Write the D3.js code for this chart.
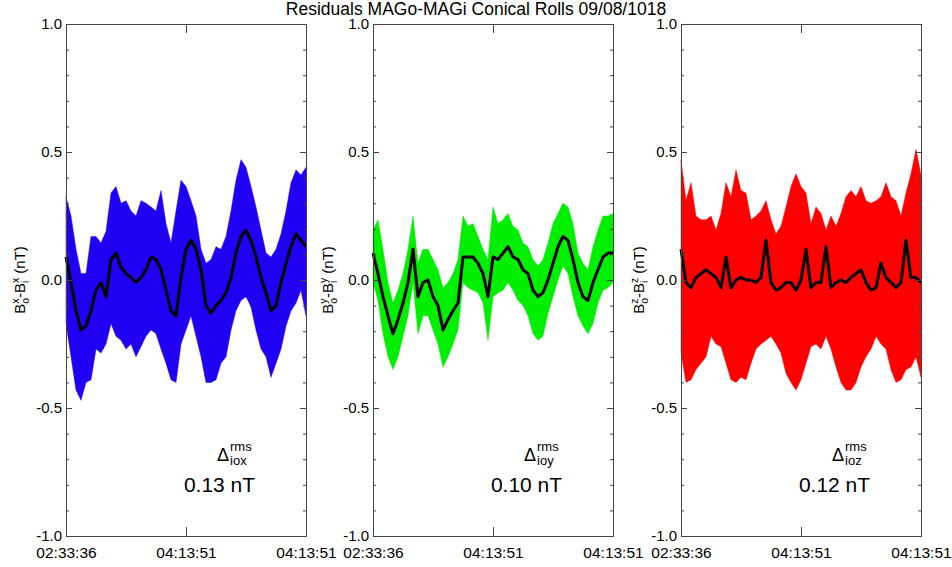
<!DOCTYPE html>
<html><head><meta charset="utf-8">
<script src="https://cdn.jsdelivr.net/npm/d3@7"></script>
<style>
body{margin:0;background:#fff}
svg{display:block;font-family:"Liberation Sans",Arial,Helvetica,sans-serif}
</style>
</head><body><div id="chart"></div>
<script>
// ---------------- data ----------------
const title = "Residuals MAGo-MAGi Conical Rolls 09/08/1018";
const timeTicks = [0, 0.5, 1];
const timeTickLabels = ["02:33:36", "04:13:51", "04:13:51"];
const yMajorTicks = [-1.0, -0.5, 0.0, 0.5, 1.0];
const yMinorTicks = [-0.9,-0.8,-0.7,-0.6,-0.4,-0.3,-0.2,-0.1,0.1,0.2,0.3,0.4,0.6,0.7,0.8,0.9];
const components = ["x", "y", "z"];
const rmsSubs = ["iox", "ioy", "ioz"];
const rmsLabels = ["0.13 nT", "0.10 nT", "0.12 nT"];
const colors = ["#1f00f2", "#00ee00", "#ff0000"];

// upper / lower envelope of the residual and its running mean, 49 samples across the interval
const upperX = [0.325,0.25,0.12,0.025,0.025,0.17,0.17,0.145,0.19,0.34,0.365,0.30,0.31,0.27,0.25,0.31,0.30,0.285,0.27,0.35,0.22,0.145,0.27,0.39,0.365,0.31,0.25,0.12,0.065,0.08,0.13,0.12,0.17,0.27,0.39,0.47,0.44,0.365,0.285,0.195,0.105,0.09,0.12,0.18,0.27,0.38,0.43,0.41,0.44];
const lowerX = [-0.17,-0.30,-0.43,-0.47,-0.40,-0.39,-0.27,-0.285,-0.25,-0.17,-0.22,-0.235,-0.27,-0.25,-0.30,-0.26,-0.22,-0.195,-0.21,-0.27,-0.325,-0.39,-0.40,-0.25,-0.195,-0.14,-0.22,-0.30,-0.40,-0.40,-0.39,-0.325,-0.30,-0.195,-0.12,-0.08,-0.065,-0.105,-0.195,-0.27,-0.30,-0.38,-0.325,-0.27,-0.18,-0.12,-0.09,-0.04,-0.14];
const meanX  = [0.09,-0.01,-0.12,-0.195,-0.18,-0.12,-0.04,-0.01,-0.065,0.08,0.105,0.05,0.025,0.01,-0.01,0.01,0.04,0.09,0.08,0.04,-0.04,-0.12,-0.14,0.01,0.12,0.155,0.12,0.04,-0.10,-0.13,-0.10,-0.08,-0.05,0.01,0.105,0.17,0.195,0.155,0.09,0.01,-0.05,-0.12,-0.10,-0.01,0.065,0.13,0.18,0.155,0.13];

const upperY = [0.195,0.235,0.12,-0.01,-0.09,-0.04,0.025,0.12,0.25,0.065,0.12,0.12,0.08,0.04,-0.03,-0.01,0.025,0.08,0.25,0.21,0.22,0.17,0.12,0.08,0.285,0.22,0.235,0.26,0.21,0.195,0.145,0.13,0.08,0.055,0.08,0.145,0.22,0.26,0.30,0.285,0.22,0.105,0.065,0.04,0.13,0.195,0.25,0.25,0.26];
const lowerY = [-0.01,-0.08,-0.21,-0.30,-0.35,-0.30,-0.22,-0.14,-0.01,-0.21,-0.14,-0.14,-0.195,-0.25,-0.34,-0.30,-0.25,-0.195,-0.01,-0.03,-0.04,-0.05,-0.09,-0.235,-0.065,-0.05,-0.04,-0.01,-0.04,-0.08,-0.10,-0.14,-0.21,-0.235,-0.22,-0.13,-0.065,0.0,0.055,0.025,-0.065,-0.14,-0.18,-0.21,-0.17,-0.09,-0.04,-0.03,-0.01];
const meanY  = [0.105,0.025,-0.065,-0.14,-0.21,-0.155,-0.09,-0.01,0.12,-0.065,-0.01,0.0,-0.065,-0.10,-0.195,-0.155,-0.12,-0.09,0.09,0.09,0.09,0.065,0.025,-0.065,0.09,0.08,0.105,0.13,0.09,0.08,0.04,0.025,-0.04,-0.065,-0.05,0.0,0.065,0.13,0.17,0.155,0.08,-0.01,-0.065,-0.08,-0.01,0.04,0.09,0.105,0.105];

const upperZ = [0.47,0.31,0.38,0.25,0.235,0.235,0.25,0.195,0.26,0.38,0.325,0.43,0.35,0.34,0.235,0.25,0.27,0.31,0.235,0.18,0.21,0.285,0.365,0.415,0.365,0.34,0.22,0.285,0.26,0.195,0.25,0.21,0.26,0.325,0.35,0.325,0.365,0.31,0.30,0.31,0.325,0.38,0.325,0.31,0.25,0.34,0.415,0.51,0.41];
const lowerZ = [-0.285,-0.40,-0.39,-0.35,-0.325,-0.30,-0.22,-0.25,-0.26,-0.325,-0.39,-0.40,-0.38,-0.39,-0.325,-0.27,-0.25,-0.235,-0.22,-0.25,-0.285,-0.365,-0.40,-0.43,-0.39,-0.325,-0.26,-0.25,-0.27,-0.22,-0.27,-0.34,-0.40,-0.43,-0.43,-0.40,-0.34,-0.30,-0.27,-0.22,-0.25,-0.27,-0.35,-0.40,-0.39,-0.35,-0.34,-0.30,-0.38];
const meanZ  = [0.12,-0.01,-0.03,0.01,0.025,0.04,0.025,0.01,-0.03,0.09,-0.03,0.0,0.01,0.0,0.0,-0.01,0.01,0.155,-0.01,-0.04,-0.03,-0.01,-0.01,-0.04,0.0,0.12,-0.03,-0.01,-0.01,0.13,-0.03,-0.01,0.0,-0.01,0.01,0.025,0.04,-0.01,-0.04,-0.03,0.065,0.01,-0.01,-0.03,-0.01,0.155,0.01,0.01,-0.01];

const uppers = [upperX, upperY, upperZ];
const lowers = [lowerX, lowerY, lowerZ];
const means  = [meanX, meanY, meanZ];

// ---------------- layout ----------------
const W = 952, H = 567;
const panelLefts = [66, 373, 681];
const panelW = 240, plotTop = 24, plotBottom = 536;
const ylabX = [25, 333, 644];
const axisColor = "#444";

const svg = d3.select("#chart").append("svg").attr("width", W).attr("height", H);

svg.append("text").attr("x", W / 2).attr("y", 15).attr("text-anchor", "middle")
  .attr("font-size", 17.5).attr("fill", "#000").text(title);

function richText(parent, pieces, anchor) {
  const g = parent.append("g");
  let x = 0;
  pieces.forEach(p => {
    if (p.gap) { x += p.gap; return; }
    if (p.t !== undefined) {
      const t = g.append("text").attr("x", x).attr("y", p.dy || 0).attr("font-size", p.size).text(p.t);
      x += t.node().getComputedTextLength();
    } else {
      const a = g.append("text").attr("x", x).attr("y", p.supDy).attr("font-size", p.size).text(p.sup);
      const b = g.append("text").attr("x", x).attr("y", p.subDy).attr("font-size", p.size).text(p.sub);
      x += Math.max(a.node().getComputedTextLength(), b.node().getComputedTextLength());
    }
  });
  const shift = anchor === "middle" ? -x / 2 : anchor === "end" ? -x : 0;
  g.selectAll("text").attr("x", function () { return +this.getAttribute("x") + shift; });
  return g;
}

const fmtY = d => d3.format(".1f")(d).replace("\u2212", "-");

components.forEach((c, k) => {
  const left = panelLefts[k];
  const x = d3.scaleLinear().domain([0, 1]).range([left, left + panelW]);
  const y = d3.scaleLinear().domain([-1, 1]).range([plotBottom, plotTop]);
  const n = means[k].length;
  const t = d3.range(n).map(i => i / (n - 1));
  const g = svg.append("g");

  // band
  const area = d3.area().x((d, i) => x(t[i])).y0((d, i) => y(lowers[k][i])).y1((d, i) => y(uppers[k][i]));
  g.append("path").datum(means[k]).attr("d", area).attr("fill", colors[k])
    .attr("stroke", colors[k]).attr("stroke-width", 0.8).attr("stroke-opacity", 0.6);
  // mean line
  const line = d3.line().x((d, i) => x(t[i])).y(d => y(d));
  g.append("path").datum(means[k]).attr("d", line).attr("fill", "none")
    .attr("stroke", "#000").attr("stroke-width", 3).attr("stroke-linejoin", "round");

  // axes
  const styleAxis = (sel, fs) => {
    sel.selectAll("path.domain").attr("stroke", axisColor).attr("stroke-width", 1);
    sel.selectAll(".tick line").attr("stroke", axisColor);
    sel.selectAll(".tick text").attr("font-size", fs || 15).attr("fill", "#000")
      .attr("font-family", '"Liberation Sans",Arial,Helvetica,sans-serif');
  };
  svg.append("g").attr("transform", `translate(${left},0)`)
    .call(d3.axisLeft(y).tickValues(yMajorTicks).tickSize(-6).tickPadding(4).tickFormat(fmtY))
    .call(styleAxis, 15);
  svg.append("g").attr("transform", `translate(${left},0)`)
    .call(d3.axisLeft(y).tickValues(yMinorTicks).tickSize(-3).tickFormat("")).call(styleAxis)
    .select("path.domain").remove();
  svg.append("g").attr("transform", `translate(${left + panelW},0)`)
    .call(d3.axisRight(y).tickValues(yMajorTicks).tickSize(-6).tickFormat("")).call(styleAxis);
  svg.append("g").attr("transform", `translate(${left + panelW},0)`)
    .call(d3.axisRight(y).tickValues(yMinorTicks).tickSize(-3).tickFormat("")).call(styleAxis)
    .select("path.domain").remove();
  svg.append("g").attr("transform", `translate(0,${plotBottom})`)
    .call(d3.axisBottom(x).tickValues(timeTicks).tickSize(-9).tickPadding(11).tickFormat((d, i) => timeTickLabels[i]))
    .call(styleAxis, 15.5);
  svg.append("g").attr("transform", `translate(0,${plotTop})`)
    .call(d3.axisTop(x).tickValues(timeTicks).tickSize(-9).tickFormat("")).call(styleAxis);

  // y label
  const yl = svg.append("g").attr("transform", `translate(${ylabX[k]},${y(0)}) rotate(-90)`);
  richText(yl, [
    { t: "B", size: 15 },
    { sup: c, sub: "o", size: 10.5, supDy: -6, subDy: 4 },
    { t: "-B", size: 15 },
    { sup: c, sub: "i", size: 10.5, supDy: -6, subDy: 4 },
    { gap: 4 },
    { t: "(nT)", size: 15 }
  ], "middle");

  // rms annotation
  const ann = svg.append("g").attr("transform", `translate(${left + 151},461)`);
  richText(ann, [
    { t: "\u0394", size: 18 },
    { gap: 1 },
    { sup: "rms", sub: rmsSubs[k], size: 13, supDy: -10, subDy: 4 }
  ], "start");
  svg.append("text").attr("x", left + 153.5).attr("y", 492).attr("text-anchor", "middle")
    .attr("font-size", 21).attr("fill", "#000").text(rmsLabels[k]);
});
</script>
</body></html>
